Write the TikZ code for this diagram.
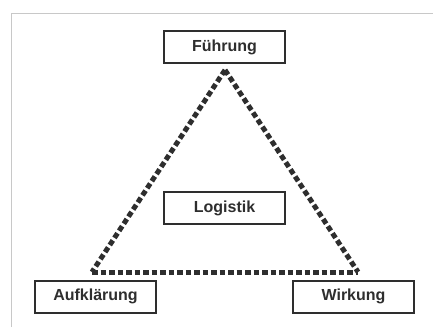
\documentclass[tikz,border=0pt]{standalone}
\usepackage{fontspec}
\setmainfont{Liberation Sans}
\definecolor{ink}{HTML}{2E2E2E}
\definecolor{frame}{HTML}{C8C8C8}
\begin{document}
\begin{tikzpicture}[x=1bp,y=-1bp,
  lbl/.style={draw=ink, line width=2bp, minimum width=121bp, minimum height=32bp,
    inner sep=0pt, font=\fontsize{16bp}{18bp}\selectfont\bfseries, text=ink},
  tri/.style={draw=ink, line width=5bp, dash pattern=on 5.5bp off 3bp}]
\useasboundingbox (0,0) rectangle (433,327);
\fill[white] (0,0) rectangle (433,327);
\draw[frame, line width=1bp] (11,327) -- (11,13.5) -- (433,13.5);
\node[lbl] (fue) at (224.5,47) {Führung};
\node[lbl] (log) at (224.5,208) {Logistik};
\node[lbl] (auf) at (95.5,296.5) {Aufklärung};
\node[lbl] (wir) at (353.5,296.5) {Wirkung};
\coordinate (top) at (225,70);
\coordinate (bl) at (92,272);
\coordinate (br) at (358,272);
\draw[tri] (top) -- (bl);
\draw[tri] (top) -- (br);
\draw[tri] (bl) -- (br);
\end{tikzpicture}
\end{document}
